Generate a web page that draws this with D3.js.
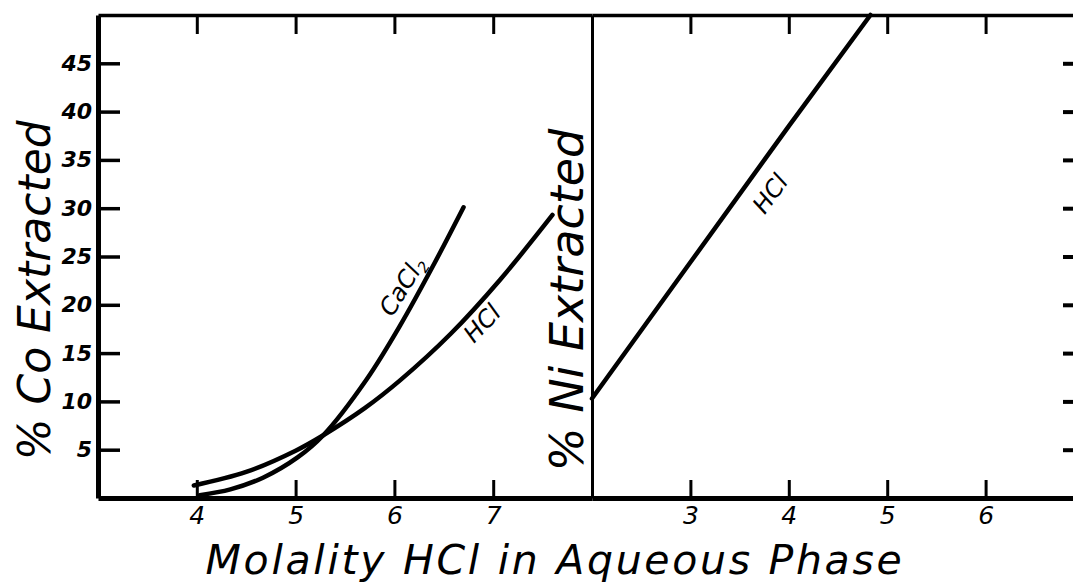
<!DOCTYPE html>
<html>
<head>
<meta charset="utf-8">
<script src="https://cdn.jsdelivr.net/npm/d3@7"></script>
<style>
  body { margin: 0; background: #fff; }
  svg { display: block; }
  .axis text { font-family: 'DejaVu Sans', sans-serif; fill: #000; }
  .axis line, .axis path { stroke: #000; }
  .title { font-family: 'DejaVu Sans', sans-serif; font-style: italic; fill: #000; }
  .curve-label { font-family: 'DejaVu Sans', sans-serif; font-style: italic; fill: #000; }
  .curve { fill: none; stroke: #000; stroke-width: 4.5; stroke-linecap: round; }
</style>
</head>
<body>
<svg id="chart"></svg>
<script>
// Co panel (left): molality HCl vs % Co extracted
const coHclX = [3.97, 4.5, 5.0, 5.28, 5.7, 6.06, 6.57, 7.07, 7.6]
const coHclY = [1.3, 2.7, 4.9, 6.5, 9.3, 12.2, 17.0, 22.6, 29.3]
const coCaclX = [4.03, 4.34, 4.67, 5.02, 5.28, 5.72, 6.06, 6.4, 6.7]
const coCaclY = [0.3, 0.9, 2.1, 4.2, 6.5, 12.3, 17.9, 24.2, 30.1]

// Ni panel (right)
const niHclX = [2, 3, 4, 4.83]
const niHclY = [10.3, 24.4, 38.5, 50]

const yTicks = [5, 10, 15, 20, 25, 30, 35, 40, 45]
const coXTicks = [4, 5, 6, 7]
const niXTicks = [3, 4, 5, 6]

const width = 1073, height = 584

const svg = d3.select('#chart')
    .attr('width', width)
    .attr('height', height)

svg.append('rect')
    .attr('width', width)
    .attr('height', height)
    .attr('fill', '#fff')

const yScale = d3.scaleLinear()
    .domain([0, 50])
    .range([498, 15])

const xCo = d3.scaleLinear()
    .domain([3, 8])
    .range([98, 592])

const xNi = d3.scaleLinear()
    .domain([2, 7])
    .range([592, 1084])

const frameTop = yScale(50), frameBottom = yScale(0)
const fmt = d3.format('d')

// frame: top and bottom lines across both panels
const topAxisCo = svg.append('g')
    .attr('class', 'axis')
    .attr('transform', `translate(0,${frameTop})`)
    .call(d3.axisTop(xCo).tickValues(coXTicks).tickSizeInner(-19).tickSizeOuter(0).tickFormat(''))
const topAxisNi = svg.append('g')
    .attr('class', 'axis')
    .attr('transform', `translate(0,${frameTop})`)
    .call(d3.axisTop(xNi).tickValues(niXTicks).tickSizeInner(-19).tickSizeOuter(0).tickFormat(''))
;[topAxisCo, topAxisNi].forEach(g => {
    g.select('.domain').attr('stroke-width', 3.5)
    g.selectAll('.tick line').attr('stroke-width', 3)
})

const botAxisCo = svg.append('g')
    .attr('class', 'axis')
    .attr('transform', `translate(0,${frameBottom})`)
    .call(d3.axisBottom(xCo).tickValues(coXTicks).tickSizeInner(-18).tickSizeOuter(0).tickPadding(7).tickFormat(fmt))
const botAxisNi = svg.append('g')
    .attr('class', 'axis')
    .attr('transform', `translate(0,${frameBottom})`)
    .call(d3.axisBottom(xNi).tickValues(niXTicks).tickSizeInner(-18).tickSizeOuter(0).tickPadding(7).tickFormat(fmt))
;[botAxisCo, botAxisNi].forEach(g => {
    g.select('.domain').attr('stroke-width', 5)
    g.selectAll('.tick line').attr('stroke-width', 3)
    g.selectAll('.tick text')
        .attr('font-size', 25)
        .attr('font-style', 'italic')
        .attr('dy', '0.75em')
})

// left y axis (Co)
const leftAxis = svg.append('g')
    .attr('class', 'axis')
    .attr('transform', `translate(${xCo(3)},0)`)
    .call(d3.axisLeft(yScale).tickValues(yTicks).tickSizeInner(-22).tickSizeOuter(0).tickPadding(6).tickFormat(fmt))
leftAxis.select('.domain').attr('stroke-width', 5)
leftAxis.selectAll('.tick line').attr('stroke-width', 3.5)
leftAxis.selectAll('.tick text')
    .attr('font-size', 22)
    .attr('font-weight', 'bold')
    .attr('font-style', 'italic')

// divider = Ni panel's left axis, no ticks
const divider = svg.append('g')
    .attr('class', 'axis')
    .attr('transform', `translate(${xNi(2)},0)`)
    .call(d3.axisLeft(yScale).tickValues([]).tickSizeOuter(0))
divider.select('.domain').attr('stroke-width', 3)

// right y axis (Ni), sits just past the edge so only its ticks show
const rightAxis = svg.append('g')
    .attr('class', 'axis')
    .attr('transform', `translate(${xNi(7)},0)`)
    .call(d3.axisRight(yScale).tickValues(yTicks).tickSizeInner(-21).tickSizeOuter(0).tickFormat(''))
rightAxis.select('.domain').attr('stroke-width', 3)
rightAxis.selectAll('.tick line').attr('stroke-width', 4)

// curves
const zip = (xs, ys) => xs.map((x, i) => ({x, y: ys[i]}))

const lineCo = d3.line()
    .x(d => xCo(d.x))
    .y(d => yScale(d.y))
    .curve(d3.curveCatmullRom.alpha(0.5))

const lineNi = d3.line()
    .x(d => xNi(d.x))
    .y(d => yScale(d.y))

svg.append('path')
    .datum(zip(coHclX, coHclY))
    .attr('class', 'curve')
    .attr('stroke-width', 4)
    .attr('d', lineCo)

svg.append('path')
    .datum(zip(coCaclX, coCaclY))
    .attr('class', 'curve')
    .attr('stroke-width', 5)
    .attr('d', lineCo)

svg.append('path')
    .datum(zip(niHclX, niHclY))
    .attr('class', 'curve')
    .attr('stroke-width', 4.5)
    .attr('d', lineNi)

// curve labels
function curveLabel(x, y, angle, size) {
    return svg.append('text')
        .attr('class', 'curve-label')
        .attr('font-size', size)
        .attr('text-anchor', 'middle')
        .attr('transform', `translate(${x},${y}) rotate(${angle})`)
}

const cacl = curveLabel(xCo(6.15), yScale(21.5), -58, 24)
cacl.append('tspan').text('CaCl')
cacl.append('tspan').attr('font-size', 15).attr('dy', 5).text('2')

curveLabel(xCo(6.95), yScale(17.5), -47, 24).text('HCl')
curveLabel(xNi(3.88), yScale(31), -54, 24).text('HCl')

// axis titles
svg.append('text')
    .attr('class', 'title')
    .attr('font-size', 44)
    .attr('text-anchor', 'middle')
    .attr('transform', `translate(50,${yScale(21.5)}) rotate(-90)`)
    .text('% Co Extracted')

svg.append('text')
    .attr('class', 'title')
    .attr('font-size', 46)
    .attr('text-anchor', 'middle')
    .attr('transform', `translate(${xNi(2) - 9},${yScale(20.5)}) rotate(-90)`)
    .text('% Ni Extracted')

svg.append('text')
    .attr('class', 'title')
    .attr('font-size', 41)
    .attr('letter-spacing', 2.7)
    .attr('text-anchor', 'middle')
    .attr('x', 555)
    .attr('y', 574)
    .text('Molality HCl in Aqueous Phase')
</script>
</body>
</html>
